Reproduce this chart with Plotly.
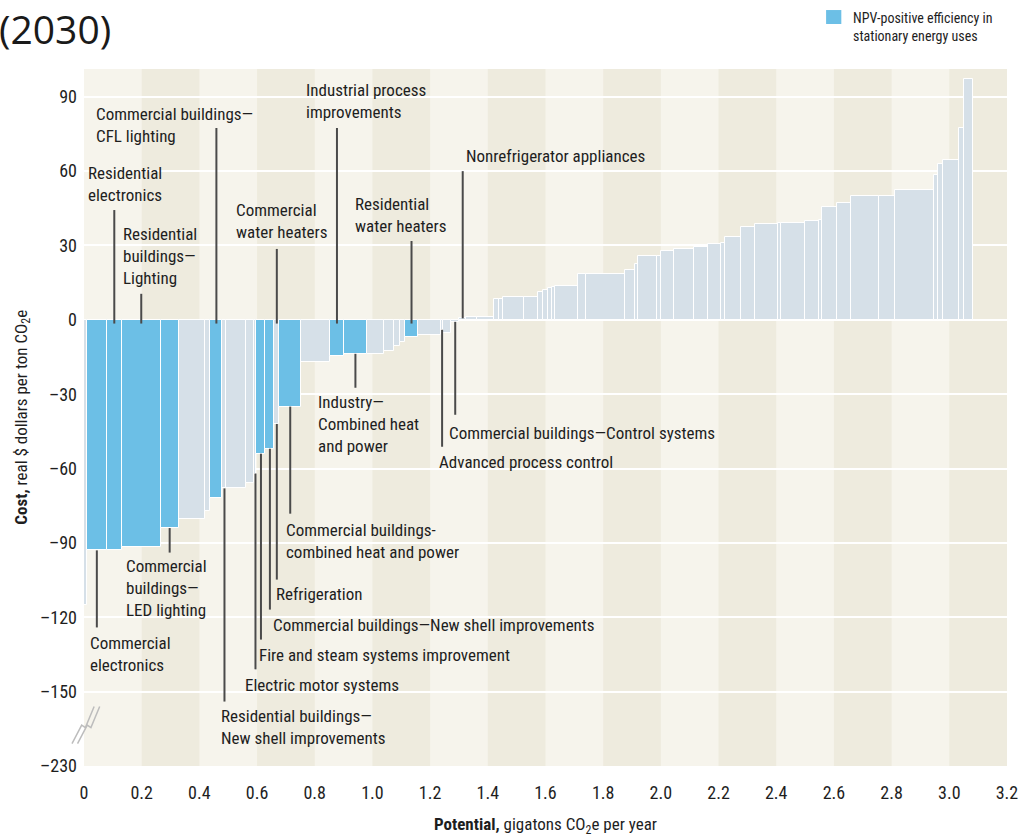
import numpy as np
import plotly.graph_objects as go

# ---------------- data ----------------
# width of each abatement lever (gigatons CO2e per year), in curve order
widths = [0.010, 0.069, 0.052, 0.135, 0.062, 0.093, 0.017, 0.042, 0.014, 0.069,
          0.028, 0.007, 0.031, 0.031, 0.017, 0.076, 0.100, 0.048, 0.080, 0.059,
          0.035, 0.021, 0.017, 0.045, 0.080, 0.007, 0.028, 0.028, 0.024, 0.038,
          0.059, 0.017, 0.014, 0.073, 0.048, 0.017, 0.017, 0.014, 0.010, 0.080,
          0.028, 0.135, 0.035, 0.010, 0.066, 0.014, 0.045, 0.069, 0.048, 0.048,
          0.014, 0.055, 0.048, 0.080, 0.010, 0.083, 0.048, 0.010, 0.052, 0.048,
          0.097, 0.055, 0.138, 0.014, 0.017, 0.055, 0.017, 0.031]
# cost (real $ per ton CO2e)
costs = [-115, -93, -93, -91.5, -84, -80.5, -77, -72, -68, -68,
         -66, -62, -54, -52, -42, -35, -17, -14.5, -13.7, -13.7,
         -12.4, -10.5, -9, -7, -6, -4, -5.4, -0.8, 0.6, 1.2,
         1.3, 8.3, 8.3, 9.1, 9.1, 11.4, 12, 12.8, 13.4, 13.7,
         18.5, 18.5, 20.1, 22.6, 25.8, 25.8, 27.9, 28.4, 29.2, 30.6,
         31, 33.3, 37.6, 38.5, 39.2, 39.2, 39.9, 40.3, 45.6, 47.2,
         49.9, 49.9, 52.3, 58.6, 62.8, 64.4, 77.2, 97.3]
# 1 = NPV-positive efficiency in stationary energy uses
npv_positive = [0, 1, 1, 1, 1, 0, 0, 1, 0, 0,
                0, 0, 1, 1, 0, 1, 0, 1, 1, 0,
                0, 0, 0, 1, 0, 0, 0, 0, 0, 0] + [0] * 38

x_tick_vals = [0, 0.2, 0.4, 0.6, 0.8, 1.0, 1.2, 1.4, 1.6, 1.8, 2.0, 2.2, 2.4, 2.6, 2.8, 3.0, 3.2]
x_tick_text = ["0", "0.2", "0.4", "0.6", "0.8", "1.0", "1.2", "1.4", "1.6", "1.8",
               "2.0", "2.2", "2.4", "2.6", "2.8", "3.0", "3.2"]
# broken axis: the bottom tick (-230) sits where -180 would be
y_tick_vals = [-180, -150, -120, -90, -60, -30, 0, 30, 60, 90]
y_tick_text = ["–230", "–150", "–120", "–90", "–60", "–30", "0", "30", "60", "90"]

label_texts = [
    "Commercial buildings—<br>CFL lighting",
    "Residential<br>electronics",
    "Residential<br>buildings—<br>Lighting",
    "Commercial<br>water heaters",
    "Industrial process<br>improvements",
    "Residential<br>water heaters",
    "Nonrefrigerator appliances",
    "Industry—<br>Combined heat<br>and power",
    "Commercial buildings—Control systems",
    "Advanced process control",
    "Commercial buildings-<br>combined heat and power",
    "Refrigeration",
    "Commercial buildings—New shell improvements",
    "Fire and steam systems improvement",
    "Electric motor systems",
    "Residential buildings—<br>New shell improvements",
    "Commercial<br>buildings—<br>LED lighting",
    "Commercial<br>electronics",
]
label_bar = [7, 2, 3, 14, 17, 23, 28, 18, 27, 25, 15, 14, 13, 12, 11, 8, 4, 1]

# ---------------- layout positions (not data) ----------------
# (text x, text y centre, leader far end y, side)
label_pos = [
    (0.035, 78.8, 77.4, "top"),
    (0.007, 55.0, 44.3, "top"),
    (0.128, 25.6, 10.5, "top"),
    (0.519, 39.7, 28.6, "top"),
    (0.761, 88.1, 77.4, "top"),
    (0.931, 42.5, 31.8, "top"),
    (1.318, 66.1, 60.0, "top"),
    (0.806, -41.9, -27.4, "bottom"),
    (1.260, -45.5, -38.3, "bottom"),
    (1.225, -57.2, -51.2, "bottom"),
    (0.692, -89.1, -78.2, "bottom"),
    (0.657, -110.8, -104.8, "bottom"),
    (0.647, -123.3, -116.9, "bottom"),
    (0.599, -135.4, -129.0, "bottom"),
    (0.550, -147.5, -141.0, "bottom"),
    (0.467, -164.4, -154.0, "bottom"),
    (0.138, -108.3, -93.9, "bottom"),
    (0.014, -134.8, -124.1, "bottom"),
]

BLUE = "#6CBFE6"
GREY = "#D6E0E8"
BAND_LIGHT = "#F6F4EC"
BAND_DARK = "#EEEBDE"
TXT = "#1E1E1E"
NARROW = "Liberation Sans Narrow, Arial Narrow, Roboto Condensed, Roboto, sans-serif"

w = np.array(widths)
c = np.array(costs)
flag = np.array(npv_positive, dtype=bool)
lefts = np.concatenate([[0], np.cumsum(w)[:-1]])
centers = lefts + w / 2

fig = go.Figure()
for mask, col in [(~flag, GREY), (flag, BLUE)]:
    fig.add_trace(go.Bar(
        x=centers[mask], y=c[mask], width=w[mask],
        marker=dict(color=col, line=dict(color="white", width=1)),
        showlegend=False, hoverinfo="skip"))

shapes = []
# alternating background bands
for i in range(16):
    if i % 2 == 1:
        shapes.append(dict(type="rect", xref="x", yref="paper",
                           x0=0.2 * i, x1=0.2 * (i + 1), y0=0, y1=1,
                           fillcolor=BAND_DARK, line=dict(width=0), layer="below"))

annotations = []
for txt, bi, (lx, ly, far, side) in zip(label_texts, label_bar, label_pos):
    annotations.append(dict(x=lx, y=ly, xref="x", yref="y", text=txt,
                            showarrow=False, xanchor="left", yanchor="middle",
                            align="left", font=dict(family=NARROW, size=17, color=TXT)))
    if side == "top":
        y0, y1 = far, (-1.5 if costs[bi] < 0 else costs[bi])
    else:
        y0, y1 = costs[bi], far
    shapes.append(dict(type="line", xref="x", yref="y",
                       x0=centers[bi], x1=centers[bi], y0=y0, y1=y1,
                       line=dict(color="#4A4A4A", width=2)))

# axis break marks
for dx in (0.0, 0.006):
    xs = [-0.013 + dx, -0.0025 + dx, 0.0015 + dx, 0.011 + dx]
    ys = [-171, -163.5, -164.5, -156]
    path = "M {} {} L {} {} L {} {} L {} {}".format(xs[0], ys[0], xs[1], ys[1],
                                                   xs[2], ys[2], xs[3], ys[3])
    shapes.append(dict(type="path", xref="paper", yref="y", path=path,
                       line=dict(color="#BDBDBD", width=1.5)))

# legend swatch + text
shapes.append(dict(type="rect", xref="paper", yref="paper",
                   x0=0.804, x1=0.8205, y0=1.0646, y1=1.0846,
                   fillcolor=BLUE, line=dict(width=0)))
annotations.append(dict(x=0.831, y=1.060, xref="paper", yref="paper",
                        text="NPV-positive efficiency in<br>stationary energy uses",
                        showarrow=False, xanchor="left", yanchor="middle", align="left",
                        font=dict(family=NARROW, size=14, color=TXT)))
# year tag
annotations.append(dict(x=0.0314, y=1.0588, xref="paper", yref="paper", text="(2030)",
                        showarrow=False, xanchor="right", yanchor="middle",
                        font=dict(family="Open Sans", size=39, color="#1A1A1A")))
# axis titles
annotations.append(dict(x=-0.067, y=0.5, xref="paper", yref="paper",
                        text="<b>Cost,</b> real $ dollars per ton CO<sub>2</sub>e",
                        textangle=-90, showarrow=False, xanchor="center", yanchor="middle",
                        font=dict(family=NARROW, size=17, color=TXT)))
annotations.append(dict(x=0.5, y=-0.086, xref="paper", yref="paper",
                        text="<b>Potential,</b> gigatons CO<sub>2</sub>e per year",
                        showarrow=False, xanchor="center", yanchor="middle",
                        font=dict(family=NARROW, size=17, color=TXT)))

fig.update_layout(
    width=1030, height=836,
    margin=dict(l=84, r=21, t=69, b=70),
    paper_bgcolor="white", plot_bgcolor=BAND_LIGHT,
    barmode="overlay", bargap=0,
    shapes=shapes, annotations=annotations,
    xaxis=dict(range=[0, 3.2], tickvals=x_tick_vals, ticktext=x_tick_text,
               showgrid=False, zeroline=False, showline=False, ticks="",
               ticklabelstandoff=14,
               tickfont=dict(family=NARROW, size=18, color=TXT)),
    yaxis=dict(range=[-180, 101.2], tickvals=y_tick_vals, ticktext=y_tick_text,
               showgrid=True, gridcolor="white", gridwidth=1.5,
               zeroline=True, zerolinecolor="white", zerolinewidth=1.5,
               showline=False, ticks="", ticklabelstandoff=6,
               tickfont=dict(family=NARROW, size=18, color=TXT)),
)

fig.write_html("out.html",
               config={"displayModeBar": False},
               post_script="document.body.style.margin='0';document.body.style.overflow='hidden';")
